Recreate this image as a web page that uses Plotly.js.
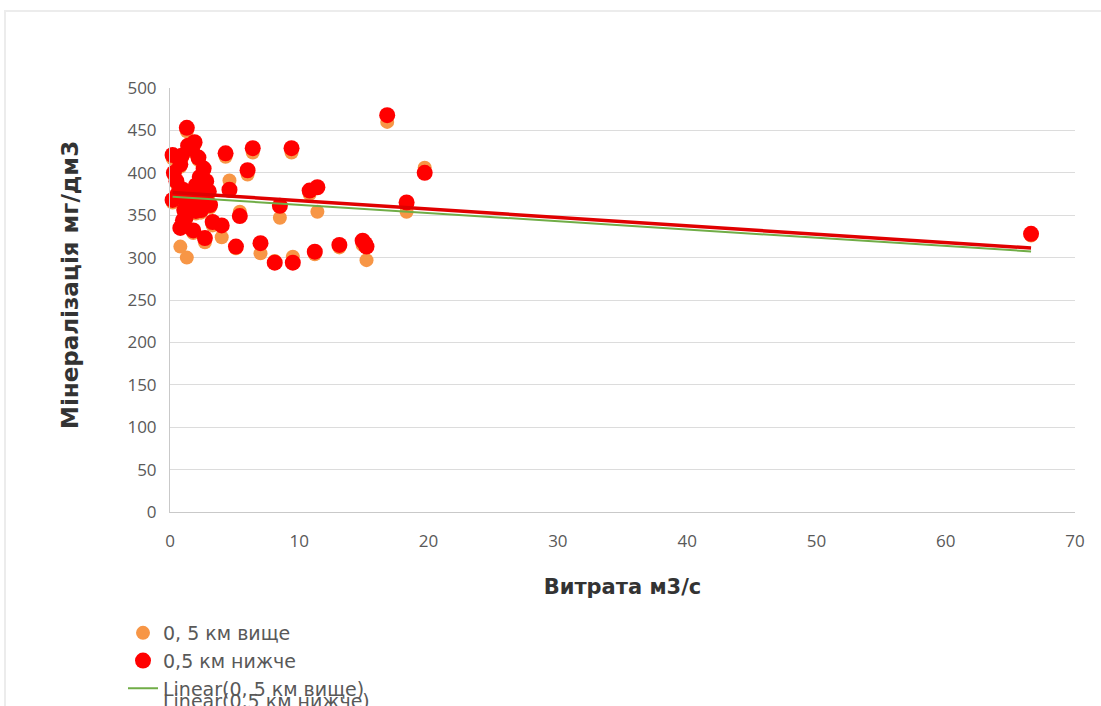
<!DOCTYPE html>
<html>
<head>
<meta charset="utf-8">
<script src="https://cdn.plot.ly/plotly-3.0.1.min.js"></script>
<style>
  html, body { margin: 0; padding: 0; background: #ffffff; overflow: hidden; }
  #frame {
    position: absolute; left: 4px; top: 10px; width: 1200px; height: 800px;
    border-left: 2px solid #ececec; border-top: 2px solid #ececec;
  }
  #chart { position: absolute; left: 0; top: 0; width: 1101px; height: 706px; }
</style>
</head>
<body>
<div id="frame"></div>
<div id="chart"></div>
<script>
// Витрата (м3/с) та мінералізація (мг/дм3) — 0,5 км вище
var flowAbove = [66.6, 16.8, 19.7, 18.3, 14.9, 15.2, 13.1, 11.4, 10.8, 11.2, 9.4, 9.5, 8.1, 8.5, 7.0,
  6.4, 6.0, 5.4, 5.1, 4.3, 4.6, 3.3, 4.0, 2.7, 1.3, 0.2, 0.8, 1.3, 1.8, 1.2,
  0.3, 0.5, 0.8, 1.0, 1.2, 1.5, 1.8, 2.0, 2.3, 2.6, 2.2, 1.7, 1.4, 1.9, 2.8, 3.0, 2.5, 1.1, 2.0, 0.9, 2.7, 0.6,
  0.2, 1.6, 2.4, 3.1, 15.0];
var mineralAbove = [326, 460, 406, 354, 315, 297, 312, 354, 375, 304, 424, 301, 296, 347, 305,
  424, 398, 354, 311, 419, 391, 338, 324, 318, 449, 417, 313, 300, 329, 342,
  397, 387, 407, 377, 365, 357, 367, 382, 392, 402, 415, 425, 429, 433, 387, 375, 359, 353, 352, 417, 369, 372,
  365, 354, 353, 359, 314];

// Витрата (м3/с) та мінералізація (мг/дм3) — 0,5 км нижче
var flowBelow = [66.6, 16.8, 19.7, 18.3, 14.9, 15.2, 13.1, 11.4, 10.8, 11.2, 9.4, 9.5, 8.1, 8.5, 7.0,
  6.4, 6.0, 5.4, 5.1, 4.3, 4.6, 3.3, 4.0, 2.7, 1.3, 0.2, 0.8, 1.0, 1.8, 1.2,
  0.3, 0.5, 0.8, 1.0, 1.2, 1.5, 1.8, 2.0, 2.3, 2.6, 2.2, 1.7, 1.4, 1.9, 2.8, 3.0, 2.5, 1.1, 2.0, 0.9, 2.7, 0.6,
  0.2, 1.6, 2.4, 3.1, 15.1];
var mineralBelow = [328, 468, 400, 365, 320, 313, 315, 383, 379, 307, 429, 294, 294, 361, 317,
  429, 403, 349, 313, 423, 380, 342, 338, 323, 453, 421, 335, 344, 332, 347,
  400, 390, 410, 380, 368, 360, 370, 385, 395, 405, 418, 428, 432, 436, 390, 378, 362, 356, 355, 420, 372, 375,
  368, 357, 356, 362, 316];

var seriesNames = ['0, 5 км вище', '0,5 км нижче'];
var trendNames = ['Linear(0, 5 км вище)', 'Linear(0,5 км нижче)'];
var xTitle = 'Витрата м3/с';
var yTitle = 'Мінералізація мг/дм3';

// Least-squares straight line over the x-range of a series
function linearTrend(xs, ys) {
  var n = xs.length, sx = 0, sy = 0;
  for (var i = 0; i < n; i++) { sx += xs[i]; sy += ys[i]; }
  var mx = sx / n, my = sy / n, sxy = 0, sxx = 0;
  for (var j = 0; j < n; j++) {
    sxy += (xs[j] - mx) * (ys[j] - my);
    sxx += (xs[j] - mx) * (xs[j] - mx);
  }
  var b = sxy / sxx, a = my - b * mx;
  var x0 = Math.min.apply(null, xs), x1 = Math.max.apply(null, xs);
  return { x: [x0, x1], y: [a + b * x0, a + b * x1] };
}

var trendAbove = linearTrend(flowAbove, mineralAbove);
var trendBelow = linearTrend(flowBelow, mineralBelow);

var FONT = '"Open Sans", "Noto Sans", sans-serif';
var WIDE = '"DejaVu Sans", "Open Sans", sans-serif';

// plot-area geometry in pixels, used to place the legend block and titles
var W = 1101, H = 706, ML = 170, MR = 26, MT = 88, MB = 194;
var PW = W - ML - MR, PH = H - MT - MB;
function px2paperX(px) { return (px - ML) / PW; }
function px2paperY(py) { return (H - MB - py) / PH; }

var traces = [
  { type: 'scatter', mode: 'markers', name: seriesNames[0], x: flowAbove, y: mineralAbove,
    legendgroup: 'a', marker: { color: '#F79646', size: 14, line: { width: 0 } }, cliponaxis: false },
  { type: 'scatter', mode: 'markers', name: seriesNames[1], x: flowBelow, y: mineralBelow,
    legendgroup: 'b', marker: { color: '#FF0000', size: 16, line: { width: 0 } }, cliponaxis: false },
  { type: 'scatter', mode: 'lines', name: trendNames[0], x: trendAbove.x, y: trendAbove.y,
    legendgroup: 'c', line: { color: '#70AD47', width: 2 } },
  { type: 'scatter', mode: 'lines', name: trendNames[1], x: trendBelow.x, y: trendBelow.y,
    legendgroup: 'd', showlegend: false, line: { color: '#E00000', width: 3.5 } }
];

var layout = {
  width: W, height: H,
  margin: { l: ML, r: MR, t: MT, b: MB, autoexpand: false },
  paper_bgcolor: 'rgba(0,0,0,0)',
  plot_bgcolor: 'rgba(0,0,0,0)',
  font: { family: FONT, color: '#595959' },
  showlegend: true,
  legend: {
    x: px2paperX(123), y: px2paperY(614), xanchor: 'left', yanchor: 'top',
    font: { family: WIDE, size: 19, color: '#595959' },
    bgcolor: 'rgba(0,0,0,0)', tracegroupgap: 0, itemwidth: 30
  },
  xaxis: {
    range: [0, 70], dtick: 10, tick0: 0, automargin: false,
    showgrid: false, zeroline: false,
    showline: true, linecolor: '#c9c9c9', linewidth: 1,
    ticks: '', ticklabelstandoff: 14,
    tickfont: { family: FONT, size: 17, color: '#595959' },
    title: { text: xTitle, standoff: 27, font: { family: WIDE, size: 21, color: '#333333', weight: 'bold' } }
  },
  yaxis: {
    range: [0, 500], dtick: 50, tick0: 0, automargin: false,
    showgrid: true, gridcolor: '#dcdcdc', gridwidth: 1, zeroline: false,
    showline: true, linecolor: '#c9c9c9', linewidth: 1,
    ticks: '', ticklabelstandoff: 9,
    tickfont: { family: FONT, size: 17, color: '#595959' }
  },
  annotations: [
    // vertical axis title, sitting a little above the plot's middle
    { xref: 'paper', yref: 'paper', x: px2paperX(70), y: px2paperY(285),
      xanchor: 'center', yanchor: 'middle', textangle: -90, showarrow: false,
      text: yTitle, font: { family: WIDE, size: 23, color: '#333333', weight: 'bold' } },
    // last legend caption, drawn over the one above it
    { xref: 'paper', yref: 'paper', x: px2paperX(161), y: px2paperY(701),
      xanchor: 'left', yanchor: 'middle', showarrow: false,
      text: trendNames[1], font: { family: WIDE, size: 19, color: '#595959' } }
  ]
};

Plotly.newPlot('chart', traces, layout, { displayModeBar: false, staticPlot: true });
</script>
</body>
</html>
